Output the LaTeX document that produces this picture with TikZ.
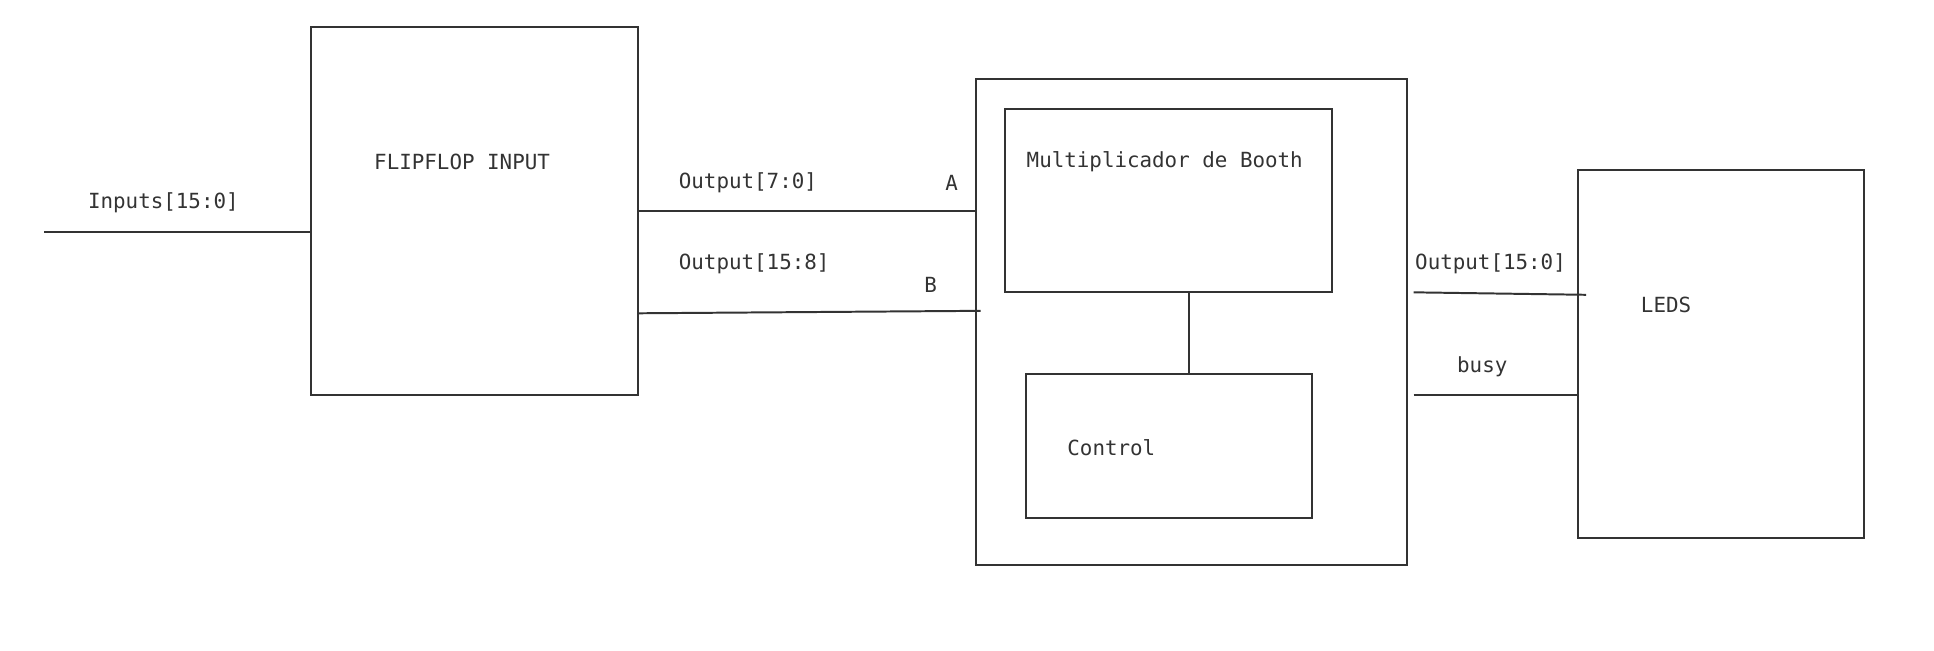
\documentclass[tikz,border=0pt]{standalone}
\usepackage{fontspec}
\setmainfont{DejaVu Sans Mono}
\usepackage{tikz}
\usetikzlibrary{calc, positioning}
\definecolor{linegray}{HTML}{333333}
\tikzset{block/.style={draw=linegray, line width=0.8pt, inner sep=0pt, outer sep=0pt},
lbl/.style={anchor=west, inner sep=0pt, text=linegray, font=\fontsize{8.45}{10}\selectfont},
wire/.style={draw=linegray, line width=0.8pt}}

\begin{document}
\begin{tikzpicture}[x=0.5pt, y=-0.5pt]
\useasboundingbox (0,0) rectangle (1568,527);
% blocks
\node[block, minimum width=132.5pt, minimum height=149pt] (ffin) at (384.5,171) {};
\node[block, minimum width=175pt, minimum height=197pt] (mult) at (966,261) {};
\node[block, minimum width=132.5pt, minimum height=74.5pt] (booth) at (947.5,162.5) {};
\node[block, minimum width=116pt, minimum height=58.5pt] (ctrl) at (948,361.5) {};
\node[block, minimum width=116pt, minimum height=149pt] (leds) at (1395,287) {};
% wire ends
\coordinate (inp) at (36,188);
\coordinate (bstart) at (517,254);
\coordinate (bend) at (795,252);
\coordinate (qstart) at (1146,237);
\coordinate (qend) at (1286,239);
\coordinate (busy) at (1146,320);
% wires
\draw[wire] (inp) -- (inp -| ffin.west);
\draw[wire] (ffin.east) -- (ffin.east -| mult.west);
\draw[wire] (bstart) -- (bend);
\draw[wire] ($(booth.south)+(16.5,0)$) -- ($(ctrl.north)+(16,0)$);
\draw[wire] (qstart) -- (qend);
\draw[wire] (busy) -- (busy -| leds.west);
% labels
\node[lbl] (tinp) at (71,164) {Inputs[15:0]};
\node[lbl] (tffin) at (303,131) {FLIPFLOP INPUT};
\node[lbl] (tout) at (550,148) {Output[7:0]};
\node[lbl] (ta) at (766,148) {A};
\node[lbl] (touth) at (550,214) {Output[15:8]};
\node[lbl] (tb) at (749,231) {B};
\node[lbl] (tbooth) at (832,131) {Multiplicador de Booth};
\node[lbl] (tctrl) at (865,363) {Control};
\node[lbl] (tq) at (1147,214) {Output[15:0]};
\node[lbl] (tbusy) at (1181,297) {busy};
\node[lbl] (tleds) at (1330,247) {LEDS};
\end{tikzpicture}
\end{document}
